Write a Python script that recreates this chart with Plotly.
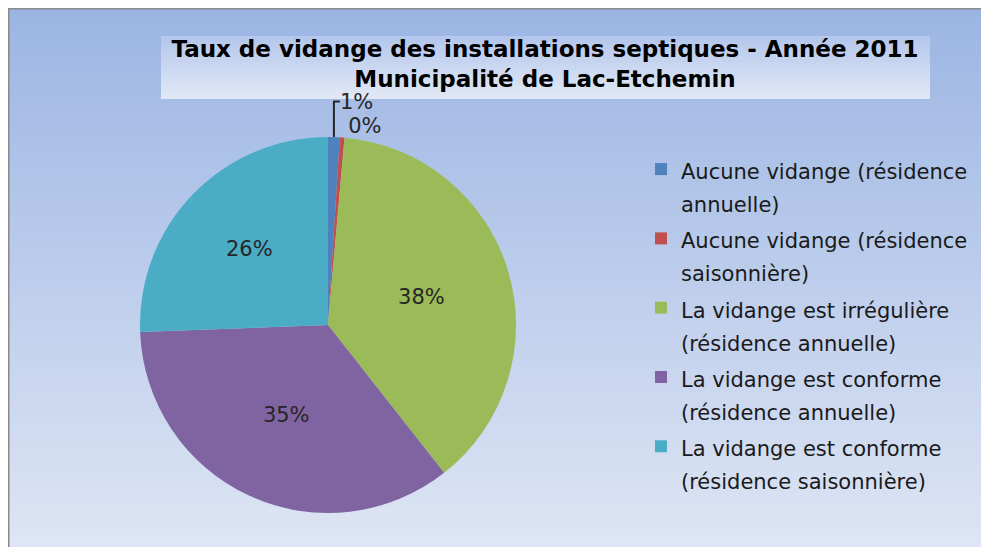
import plotly.graph_objects as go

# ---- data ----
labels = [
    "Aucune vidange (résidence<br>annuelle)",
    "Aucune vidange (résidence<br>saisonnière)",
    "La vidange est irrégulière<br>(résidence annuelle)",
    "La vidange est conforme<br>(résidence annuelle)",
    "La vidange est conforme<br>(résidence saisonnière)",
]
values = [1.0, 0.4, 38.0, 35.0, 25.6]
colors = ["#4F81BD", "#C0504D", "#9BBB59", "#8064A2", "#4BACC6"]
title_lines = ["Taux de vidange des installations septiques - Année 2011",
               "Municipalité de Lac-Etchemin"]

# page has an 8px body margin; figure sized to fit the 989x555 window
OFF = 8
W, H = 989 - OFF, 555 - 2 * OFF
FONT = "DejaVu Sans, Verdana, sans-serif"


def X(xp):  # page pixel -> paper x
    return (xp - OFF) / W


def Y(yp):  # page pixel -> paper y
    return 1 - (yp - OFF) / H


def lerp(c1, c2, t):
    return "rgb(%d,%d,%d)" % tuple(round(a + (b - a) * t) for a, b in zip(c1, c2))


shapes = []
# background gradient
top_c, bot_c = (155, 181, 227), (222, 229, 244)
N = 70
for i in range(N):
    y0 = i / N
    y1 = (i + 1) / N
    shapes.append(dict(type="rect", xref="paper", yref="paper",
                       x0=0, x1=1, y0=max(0, 1 - y1 - 0.003), y1=1 - y0,
                       fillcolor=lerp(top_c, bot_c, i / (N - 1)),
                       line=dict(width=0), layer="below"))
# frame lines (top & left)
shapes.append(dict(type="line", xref="paper", yref="paper",
                   x0=0, x1=1, y0=1, y1=1,
                   line=dict(color="#8A8A8A", width=3)))
shapes.append(dict(type="line", xref="paper", yref="paper",
                   x0=0, x1=0, y0=0, y1=1,
                   line=dict(color="#8A8A8A", width=3)))
# title box gradient
tb_top, tb_bot = (180, 199, 236), (225, 232, 245)
M = 20
bx0, bx1, by0, by1 = 161, 930, 36, 99
for i in range(M):
    ya = by0 + (by1 - by0) * i / M
    yb = by0 + (by1 - by0) * (i + 1) / M + 0.6
    shapes.append(dict(type="rect", xref="paper", yref="paper",
                       x0=X(bx0), x1=X(bx1), y0=Y(min(yb, by1)), y1=Y(ya),
                       fillcolor=lerp(tb_top, tb_bot, i / (M - 1)),
                       line=dict(width=0), layer="below"))

# pie: centre (328,325), radius 188 (page pixels)
cx, cy, R = 328, 325, 188

fig = go.Figure()
fig.add_trace(go.Pie(
    labels=['<span style="font-size:21px">' + l + "</span>" for l in labels],
    values=values,
    sort=False,
    direction="clockwise",
    rotation=0,
    marker=dict(colors=colors, line=dict(width=0)),
    texttemplate="%{percent:.0%}",
    textposition=["outside", "outside", "inside", "inside", "inside"],
    insidetextorientation="horizontal",
    textfont=dict(family=FONT, size=21, color="#262626"),
    hoverinfo="percent",
    domain=dict(x=[X(cx - R), X(cx + R)], y=[Y(cy + R), Y(cy - R)]),
))

fig.update_layout(
    width=W, height=H,
    margin=dict(l=0, r=0, t=0, b=0, autoexpand=False),
    paper_bgcolor="white",
    plot_bgcolor="rgba(0,0,0,0)",
    shapes=shapes,
    title=dict(text="<b>" + title_lines[0] + "</b><br><b>" + title_lines[1] + "</b>",
               x=X(545), xanchor="center", y=Y(57), yanchor="top",
               font=dict(family=FONT, size=23, color="#000000")),
    legend=dict(x=X(641), xanchor="left", y=Y(146), yanchor="top",
                valign="top",
                font=dict(family=FONT, size=25.5, color="#1A1A1A"),
                bgcolor="rgba(0,0,0,0)", traceorder="normal"),
    showlegend=True,
)

fig.write_html("out.html")
